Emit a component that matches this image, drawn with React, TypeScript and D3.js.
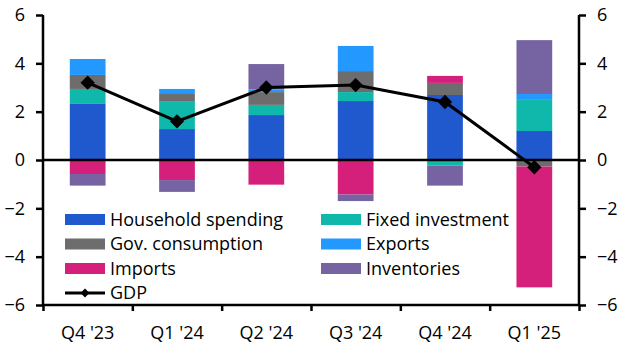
import React, { useRef, useEffect } from "react";
import * as d3 from "d3";

// quarters along the x axis
const quarters = ["Q4 '23", "Q1 '24", "Q2 '24", "Q3 '24", "Q4 '24", "Q1 '25"];

// contributions to growth (% pts)
const household = [2.32, 1.28, 1.86, 2.44, 2.69, 1.2];
const fixedInvestment = [0.62, 1.13, 0.42, 0.37, -0.23, 1.32];
const govConsumption = [0.58, 0.32, 0.53, 0.87, 0.5, -0.27];
const exportsContrib = [0.66, 0.21, 0.11, 1.04, 0, 0.21];
const importsContrib = [-0.58, -0.83, -1.02, -1.43, 0.29, -5.0];
const inventories = [-0.48, -0.49, 1.05, -0.27, -0.83, 2.23];
const gdp = [3.2, 1.6, 3.0, 3.1, 2.4, -0.3];

const yTicks = [-6, -4, -2, 0, 2, 4, 6];

const series = [
  { key: "Household spending", values: household, color: "#2059cd" },
  { key: "Fixed investment", values: fixedInvestment, color: "#0fb8aa" },
  { key: "Gov. consumption", values: govConsumption, color: "#6d6d6d" },
  { key: "Exports", values: exportsContrib, color: "#2399ff" },
  { key: "Imports", values: importsContrib, color: "#d4207b" },
  { key: "Inventories", values: inventories, color: "#7663a1" },
];

const FONT = "'Open Sans', sans-serif";
const FONT_SIZE = 18;

const App: React.FC = () => {
  const ref = useRef<SVGSVGElement | null>(null);

  useEffect(() => {
    if (!ref.current) return;
    const width = 629;
    const height = 359;
    const margin = { left: 43, right: 50, top: 15, bottom: 54 };

    const svg = d3.select(ref.current);
    svg.selectAll("*").remove();

    const x = d3
      .scaleBand<string>()
      .domain(quarters)
      .range([margin.left, width - margin.right])
      .paddingInner(0.6)
      .paddingOuter(0.3);

    const y = d3
      .scaleLinear()
      .domain([-6, 6])
      .range([height - margin.bottom, margin.top]);

    // build a table for d3.stack
    const table = quarters.map((q, i) => {
      const row: Record<string, number | string> = { q };
      series.forEach((s) => (row[s.key] = s.values[i]));
      return row;
    });

    const stacked = d3
      .stack<Record<string, number | string>>()
      .keys(series.map((s) => s.key))
      .value((d, k) => d[k] as number)
      .offset(d3.stackOffsetDiverging)(table);

    // bars
    svg
      .append("g")
      .selectAll("g")
      .data(stacked)
      .join("g")
      .attr("fill", (_d, i) => series[i].color)
      .selectAll("rect")
      .data((d) => d)
      .join("rect")
      .attr("x", (d) => x(d.data.q as string)!)
      .attr("width", x.bandwidth())
      .attr("y", (d) => y(Math.max(d[0], d[1])))
      .attr("height", (d) => Math.abs(y(d[0]) - y(d[1])));

    // zero line
    svg
      .append("line")
      .attr("x1", margin.left)
      .attr("x2", width - margin.right)
      .attr("y1", y(0))
      .attr("y2", y(0))
      .attr("stroke", "#000")
      .attr("stroke-width", 2.5);

    // axes
    const axisG = svg.append("g").attr("font-family", FONT).attr("font-size", FONT_SIZE);
    const left = axisG
      .append("g")
      .attr("transform", `translate(${margin.left},0)`)
      .call(d3.axisLeft(y).tickValues(yTicks).tickSize(7).tickPadding(11).tickFormat(d3.format("d")));
    const right = axisG
      .append("g")
      .attr("transform", `translate(${width - margin.right},0)`)
      .call(d3.axisRight(y).tickValues(yTicks).tickSize(7).tickPadding(11).tickFormat(d3.format("d")));
    const bottomTicks = d3
      .scaleLinear()
      .domain([0, quarters.length])
      .range([margin.left, width - margin.right]);
    const bottom = axisG
      .append("g")
      .attr("transform", `translate(0,${height - margin.bottom})`)
      .call(d3.axisBottom(bottomTicks).tickValues(d3.range(quarters.length + 1)).tickSize(6).tickFormat(() => ""));
    axisG
      .append("g")
      .selectAll("text")
      .data(quarters)
      .join("text")
      .attr("x", (d) => x(d)! + x.bandwidth() / 2)
      .attr("y", height - margin.bottom + 34)
      .attr("text-anchor", "middle")
      .attr("fill", "#000")
      .text((d) => d);

    [left, right, bottom].forEach((g) => {
      g.select(".domain").attr("stroke-width", 2.5).attr("stroke", "#000");
      g.selectAll(".tick line").attr("stroke-width", 2.5).attr("stroke", "#000");
      g.selectAll(".tick text").attr("fill", "#000").attr("font-family", FONT).attr("font-size", FONT_SIZE);
    });
    // remove the outer tick caps from the domain path
    left.select(".domain").attr("d", `M0,${y(6)}V${y(-6)}`);
    right.select(".domain").attr("d", `M0,${y(6)}V${y(-6)}`);
    bottom.select(".domain").attr("d", `M${margin.left},0H${width - margin.right}`);

    // GDP line
    const line = d3
      .line<number>()
      .x((_d, i) => x(quarters[i])! + x.bandwidth() / 2)
      .y((d) => y(d));
    svg
      .append("path")
      .datum(gdp)
      .attr("d", line)
      .attr("fill", "none")
      .attr("stroke", "#000")
      .attr("stroke-width", 3);
    const diamond = d3.symbol().type(d3.symbolDiamond2).size(130);
    svg
      .append("g")
      .selectAll("path")
      .data(gdp)
      .join("path")
      .attr("transform", (d, i) => `translate(${x(quarters[i])! + x.bandwidth() / 2},${y(d)})`)
      .attr("d", diamond)
      .attr("fill", "#000");

    // legend
    const legend = svg.append("g").attr("font-family", FONT).attr("font-size", FONT_SIZE);
    const cols = [65, 321];
    const rowY = [219.5, 244, 268.5];
    series.forEach((s, i) => {
      const cx = cols[i % 2];
      const cy = rowY[Math.floor(i / 2)];
      legend
        .append("rect")
        .attr("x", cx)
        .attr("y", cy - 5.5)
        .attr("width", 40)
        .attr("height", 11)
        .attr("fill", s.color);
      legend
        .append("text")
        .attr("x", cx + 45)
        .attr("y", cy)
        .attr("dy", "0.35em")
        .attr("fill", "#000")
        .text(s.key);
    });
    legend
      .append("line")
      .attr("x1", 65)
      .attr("x2", 105)
      .attr("y1", 293)
      .attr("y2", 293)
      .attr("stroke", "#000")
      .attr("stroke-width", 3);
    legend
      .append("path")
      .attr("transform", "translate(85,293)")
      .attr("d", d3.symbol().type(d3.symbolDiamond2).size(50))
      .attr("fill", "#000");
    legend
      .append("text")
      .attr("x", 110)
      .attr("y", 293)
      .attr("dy", "0.35em")
      .attr("fill", "#000")
      .text("GDP");

    return () => {
      svg.selectAll("*").remove();
    };
  }, []);

  return (
    <svg
      ref={ref}
      width={629}
      height={359}
      style={{ position: "absolute", left: 0, top: 0, background: "#fff" }}
    ></svg>
  );
};

export default App;
